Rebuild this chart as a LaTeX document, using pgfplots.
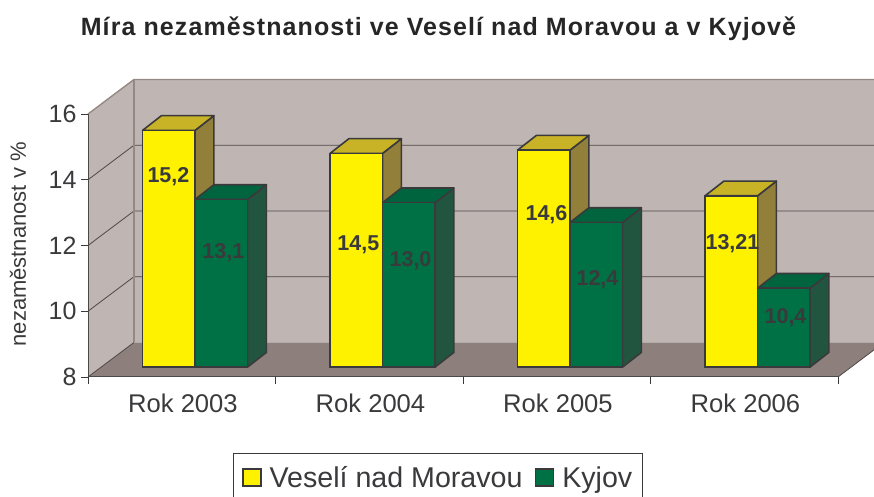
\documentclass[border=0pt]{standalone}
\usepackage{fontspec}
\setmainfont{Liberation Sans}
\newfontfamily\titlefont[LetterSpace=4.4]{Liberation Sans}
\usepackage{pgfplots}
\pgfplotsset{compat=1.18}
\definecolor{txt}{HTML}{3A3A3C}
\definecolor{wall}{HTML}{BFB5B2}
\definecolor{floorc}{HTML}{8D7F7B}
\definecolor{wedge}{HTML}{948985}
\definecolor{grd}{HTML}{4D4848}
\definecolor{ylw}{HTML}{FFF200}
\definecolor{ylwT}{HTML}{C8B226}
\definecolor{ylwS}{HTML}{927F3A}
\definecolor{grn}{HTML}{007045}
\definecolor{grnT}{HTML}{00643F}
\definecolor{grnS}{HTML}{22553F}
\newcommand{\fs}[1]{\fontsize{#1}{#1}\selectfont}
% side and top faces of one bar: left edge, right edge, value, side colour, top colour
\newcommand{\barfaces}[5]{%
  \pgfmathsetmacro{\xb}{#2+0.1}\pgfmathsetmacro{\xc}{#1+0.1}\pgfmathsetmacro{\yb}{#3+0.445}%
  \addplot[forget plot,draw=txt,line width=1.6pt,line join=round,fill=#4] coordinates {(#2,8) (#2,#3) (\xb,\yb) (\xb,8.445)} --cycle;
  \addplot[forget plot,draw=txt,line width=1.6pt,line join=round,fill=#5] coordinates {(#1,#3) (#2,#3) (\xb,\yb) (\xc,\yb)} --cycle;
}
\begin{document}
\begin{tikzpicture}
\path[use as bounding box] (-88pt,-120pt) rectangle (786pt,377pt);
\begin{axis}[
  at={(0pt,0pt)},anchor=south west,scale only axis,width=750pt,height=263pt,
  xmin=0,xmax=4,ymin=8,ymax=16,clip=false,axis on top,
  axis x line*=bottom,axis y line*=left,axis line style={-,draw=grd,line width=1pt},
  xtick={0.5,1.5,2.5,3.5},xticklabels={Rok 2003,Rok 2004,Rok 2005,Rok 2006},
  minor xtick={0,1,2,3,4},ytick={8,10,12,14,16},
  tick align=outside,major x tick style={draw=none},
  minor x tick style={draw=txt,line width=0.8pt},minor tick length=7pt,
  major y tick style={draw=txt,line width=0.8pt},major tick length=7pt,
  /pgf/number format/assume math mode=true,
  tick label style={font=\fs{25},text=txt},
  x tick label style={yshift=-6.5pt,xshift=1.2pt,font=\fs{25.6}},y tick label style={xshift=-1pt},
  title={\titlefont\bfseries Míra nezaměstnanosti ve Veselí nad Moravou a v Kyjově},
  title style={at={(axis description cs:0.4673,1.301)},anchor=center,font=\fs{25},text=black!85},
  ylabel={nezaměstnanost v \%},
  ylabel style={at={(axis description cs:-0.0935,0.5045)},anchor=center,font=\fs{22},text=txt},
]
\addplot[forget plot,fill=wall,draw=none] coordinates {(0.2453,9.05) (4.2,9.05) (4.2,17.05) (0.2453,17.05)} --cycle;
\addplot[forget plot,fill=wall,draw=none] coordinates {(0,8) (0.2453,9.05) (0.2453,17.05) (0,16)} --cycle;
\addplot[forget plot,fill=floorc,draw=none] coordinates {(0,8) (4,8) (4.2,8.86) (4.2,9.05) (0.2453,9.05)} --cycle;
\addplot[forget plot,draw=grd,line width=0.8pt] coordinates {(0,10) (0.2453,11.05) (4.2,11.05)};
\addplot[forget plot,draw=grd,line width=0.8pt] coordinates {(0,12) (0.2453,13.05) (4.2,13.05)};
\addplot[forget plot,draw=grd,line width=0.8pt] coordinates {(0,14) (0.2453,15.05) (4.2,15.05)};
\addplot[forget plot,draw=wedge,line width=1.4pt] coordinates {(0,16) (0.2453,17.05) (4.2,17.05)};
\addplot[forget plot,draw=wedge,line width=1.4pt] coordinates {(0.2453,9.05) (0.2453,17.05)};
\addplot[forget plot,draw=grd,line width=0.8pt] coordinates {(0,8) (0.2453,9.05)};
\addplot[forget plot,draw=grd,line width=0.8pt] coordinates {(4,8) (4.2,8.86)};
\end{axis}
\begin{axis}[
  at={(13.4pt,10pt)},anchor=south west,scale only axis,width=750pt,height=263pt,
  xmin=0,xmax=4,ymin=8,ymax=16,clip=false,hide axis,
  legend columns=2,
  legend image code/.code={\draw[draw=txt,line width=1.6pt,fill=#1] (0pt,-8.5pt) rectangle (18pt,8.5pt);\path[draw=none,fill=none] (0pt,0pt) -- (25pt,0pt);},
  legend style={at={(axis description cs:0.1755,-0.327)},anchor=north west,draw=txt,line width=0.8pt,
    font=\fs{28.6},text=txt,inner ysep=11pt,inner xsep=8.5pt,
    /tikz/every even column/.style={column sep=10pt}},
]
\barfaces{0.22}{0.50}{15.2}{ylwS}{ylwT}
\barfaces{1.22}{1.50}{14.5}{ylwS}{ylwT}
\barfaces{2.22}{2.50}{14.6}{ylwS}{ylwT}
\barfaces{3.22}{3.50}{13.21}{ylwS}{ylwT}
\addplot[ybar,bar width=0.28,bar shift=0pt,draw=txt,line width=1.6pt,fill=ylw]
  coordinates {(0.36,15.2) (1.36,14.5) (2.36,14.6) (3.36,13.21)};
\addlegendentry{Veselí nad Moravou}
\barfaces{0.50}{0.78}{13.1}{grnS}{grnT}
\barfaces{1.50}{1.78}{13.0}{grnS}{grnT}
\barfaces{2.50}{2.78}{12.4}{grnS}{grnT}
\barfaces{3.50}{3.78}{10.4}{grnS}{grnT}
\addplot[ybar,bar width=0.28,bar shift=0pt,draw=txt,line width=1.6pt,fill=grn]
  coordinates {(0.64,13.1) (1.64,13.0) (2.64,12.4) (3.64,10.4)};
\addlegendentry{Kyjov}
\addplot[forget plot,draw=none,mark=none,nodes near coords,point meta=explicit symbolic,
  every node near coord/.style={anchor=center,font=\fs{21.5}\bfseries,text=txt,yshift=-2pt,xshift=0.5pt}]
  table[meta=l,row sep=\\]{x y l\\ 0.355 13.85 15,2\\ 1.368 11.79 14,5\\ 2.371 12.70 14,6\\ 3.363 11.82 13,21\\ 0.648 11.55 13,1\\ 1.646 11.30 13,0\\ 2.643 10.73 12,4\\ 3.646 9.55 10,4\\};
\end{axis}
\end{tikzpicture}
\end{document}
